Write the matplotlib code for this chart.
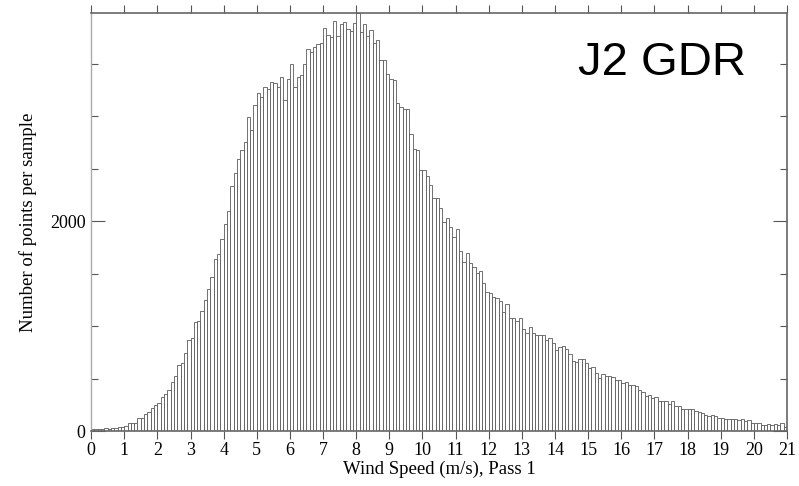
import numpy as np
import matplotlib
matplotlib.use("Agg")
import matplotlib.pyplot as plt
from matplotlib.ticker import MultipleLocator

# wind speed histogram, 0.1 m/s bins from 0 to 21 m/s
bin_width = 0.1
counts = [
    16, 16, 18, 22, 28, 22, 25, 32, 41, 41,
    45, 78, 78, 80, 120, 120, 166, 184, 218, 249,
    263, 324, 355, 390, 467, 523, 630, 653, 745, 865,
    887, 1042, 1048, 1140, 1252, 1353, 1466, 1643, 1688, 1833,
    1973, 2092, 2330, 2454, 2593, 2673, 2751, 2988, 2870, 3102,
    3216, 3184, 3273, 3257, 3321, 3317, 3279, 3374, 3152, 3352,
    3500, 3273, 3368, 3390, 3500, 3635, 3613, 3658, 3686, 3692,
    3841, 3776, 3748, 3906, 3760, 3880, 3893, 3825, 3813, 3884,
    3980, 3800, 3880, 3760, 3822, 3700, 3724, 3533, 3533, 3400,
    3355, 3343, 3128, 3085, 3065, 3067, 2825, 2682, 2678, 2490,
    2490, 2425, 2346, 2220, 2222, 2125, 1993, 2032, 1946, 1851,
    1921, 1717, 1613, 1698, 1597, 1559, 1508, 1524, 1406, 1327,
    1311, 1273, 1270, 1241, 1136, 1209, 1079, 1079, 1051, 1079,
    968, 936, 993, 930, 914, 914, 914, 866, 882, 835,
    771, 803, 812, 778, 730, 670, 660, 685, 685, 651,
    597, 606, 555, 501, 539, 527, 524, 511, 482, 490,
    460, 470, 438, 438, 429, 390, 375, 333, 343, 311,
    321, 289, 286, 289, 257, 289, 238, 238, 206, 210,
    210, 213, 190, 184, 168, 152, 143, 152, 143, 121,
    121, 111, 111, 111, 111, 108, 111, 98, 105, 73,
    73, 79, 57, 54, 63, 57, 63, 57, 73, 41,
]
x_ticks = list(range(0, 22))
y_labelled = [0, 2000]
title = "J2 GDR"

bin_left = np.arange(len(counts)) * bin_width

serif = ["Liberation Serif", "DejaVu Serif"]

fig = plt.figure(figsize=(7.99, 4.86), dpi=100)
ax = fig.add_axes([0.114, 0.113, 0.871, 0.860])

ax.bar(bin_left, counts, width=bin_width, align="edge",
       facecolor="white", edgecolor="#5a5a5a", linewidth=0.6)

ax.set_xlim(0, 21)
ax.set_ylim(0, max(counts))

ax.set_xticks(x_ticks)
ax.set_xticklabels([str(t) for t in x_ticks], family=serif, fontsize=13)
ax.set_yticks(y_labelled)
ax.set_yticklabels([str(t) for t in y_labelled], family=serif, fontsize=13)
ax.yaxis.set_minor_locator(MultipleLocator(500))

ax.tick_params(axis="x", which="major", direction="out", length=5.5,
               width=0.8, color="#555555", top=True, pad=2.5)
ax.tick_params(axis="y", which="major", direction="in", length=10,
               width=0.8, color="#555555", right=True, pad=4)
ax.tick_params(axis="y", which="minor", direction="in", length=5,
               width=0.8, color="#555555", right=True)

for side in ["top", "bottom", "right"]:
    ax.spines[side].set_color("#666666")
    ax.spines[side].set_linewidth(1.2)
ax.spines["left"].set_color("#aaaaaa")
ax.spines["left"].set_linewidth(1.0)

ax.set_xlabel("Wind Speed (m/s), Pass 1", family=serif, fontsize=13.5,
              labelpad=1)
ax.set_ylabel("Number of points per sample", family=serif, fontsize=13.5,
              labelpad=9)

ax.text(0.82, 0.88, title, transform=ax.transAxes, ha="center", va="center",
        family=["Liberation Sans", "DejaVu Sans"], fontsize=34)

fig.savefig("out.png", dpi=100)
